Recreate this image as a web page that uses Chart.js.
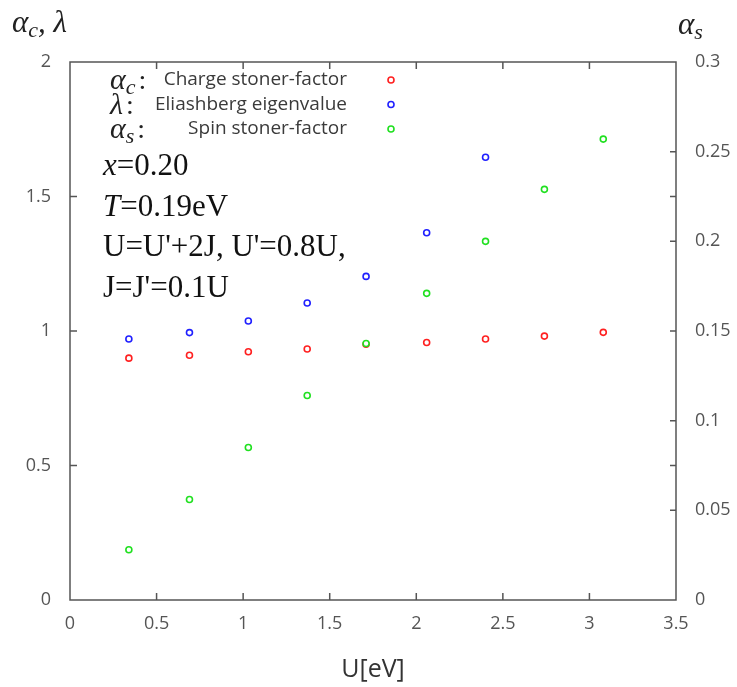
<!DOCTYPE html>
<html>
<head>
<meta charset="utf-8">
<script src="https://cdn.jsdelivr.net/npm/chart.js@4"></script>
<style>
  html, body { margin: 0; padding: 0; background: #fff; }
  #wrap { width: 737px; height: 687px; }
</style>
</head>
<body>
<div id="wrap"><canvas id="chart" width="737" height="687"></canvas></div>
<script>
// U [eV] values on the x axis
const uValues = [0.34, 0.69, 1.03, 1.37, 1.71, 2.06, 2.40, 2.74, 3.08]
// left axis: charge stoner factor and Eliashberg eigenvalue
const chargeStoner = [0.899, 0.910, 0.923, 0.933, 0.951, 0.957, 0.970, 0.981, 0.995]
const eliashberg = [0.970, 0.994, 1.037, 1.104, 1.203, 1.365, 1.646]
// right axis: spin stoner factor
const spinStoner = [0.028, 0.056, 0.085, 0.114, 0.143, 0.171, 0.200, 0.229, 0.257]

const xTicks = [0, 0.5, 1, 1.5, 2, 2.5, 3, 3.5]
const leftTicks = [0, 0.5, 1, 1.5, 2]
const rightTicks = [0, 0.05, 0.1, 0.15, 0.2, 0.25, 0.3]

const legendRows = [
  { greek: 'α', sub: 'c', label: 'Charge stoner-factor', color: '#ff2020' },
  { greek: 'λ', sub: '', label: 'Eliashberg eigenvalue', color: '#2020ff' },
  { greek: 'α', sub: 's', label: 'Spin stoner-factor', color: '#20e020' }
]

const notes = [
  [{ t: 'x', i: true }, { t: '=0.20' }],
  [{ t: 'T', i: true }, { t: '=0.19eV' }],
  [{ t: "U=U'+2J, U'=0.8U," }],
  [{ t: "J=J'=0.1U" }]
]

function toPoints(values) {
  return values.map((v, i) => ({ x: uValues[i], y: v }))
}

const SERIF = '"Liberation Serif", "DejaVu Serif", serif'
const SANS = '"Open Sans", "Noto Sans", sans-serif'

// draws runs of text one after another, returns end x
function drawRuns(ctx, runs, x, y) {
  runs.forEach((r) => {
    ctx.font = r.font
    ctx.fillText(r.t, x + (r.dx || 0), y + (r.dy || 0))
    x += ctx.measureText(r.t).width + (r.dx || 0)
  })
  return x
}

const decorations = {
  id: 'decorations',
  afterDraw(chart) {
    const ctx = chart.ctx
    const area = chart.chartArea
    const xs = chart.scales.x
    const yl = chart.scales.y
    const yr = chart.scales.y2
    ctx.save()

    // frame
    ctx.strokeStyle = '#555'
    ctx.lineWidth = 1.5
    ctx.strokeRect(area.left, area.top, area.right - area.left, area.bottom - area.top)

    // inward ticks
    ctx.beginPath()
    xTicks.slice(1, -1).forEach((v) => {
      const px = xs.getPixelForValue(v)
      ctx.moveTo(px, area.bottom); ctx.lineTo(px, area.bottom - 7)
      ctx.moveTo(px, area.top); ctx.lineTo(px, area.top + 7)
    })
    leftTicks.slice(1, -1).forEach((v) => {
      const py = yl.getPixelForValue(v)
      ctx.moveTo(area.left, py); ctx.lineTo(area.left + 7, py)
      ctx.moveTo(area.right, py); ctx.lineTo(area.right - 6, py)
    })
    rightTicks.slice(1, -1).forEach((v) => {
      const py = yr.getPixelForValue(v)
      ctx.moveTo(area.right, py); ctx.lineTo(area.right - 6, py)
    })
    ctx.stroke()

    // axis titles with greek letters
    ctx.fillStyle = '#222'
    ctx.textBaseline = 'alphabetic'
    ctx.textAlign = 'left'
    drawRuns(ctx, [
      { t: 'α', font: 'italic 31px ' + SERIF },
      { t: 'c', font: 'italic 22px ' + SERIF, dy: 5 },
      { t: ', ', font: 'italic 31px ' + SERIF },
      { t: 'λ', font: 'italic 31px ' + SERIF }
    ], 12, 32)
    drawRuns(ctx, [
      { t: 'α', font: 'italic 31px ' + SERIF },
      { t: 's', font: 'italic 22px ' + SERIF, dy: 5 }
    ], 678, 34)

    // legend
    legendRows.forEach((row, i) => {
      const y = 80 + i * 24.5
      ctx.fillStyle = '#222'
      ctx.textAlign = 'left'
      ctx.textBaseline = 'alphabetic'
      const runs = [{ t: row.greek, font: 'italic 30px ' + SERIF }]
      if (row.sub) runs.push({ t: row.sub, font: 'italic 22px ' + SERIF, dy: 5 })
      runs.push({ t: ':', font: '28px ' + SERIF, dx: 3 })
      drawRuns(ctx, runs, 110, y + 9)

      ctx.fillStyle = '#3a3a3a'
      ctx.font = '19px ' + SANS
      ctx.textAlign = 'right'
      ctx.textBaseline = 'middle'
      ctx.fillText(row.label, 347, y)

      ctx.beginPath()
      ctx.arc(391, y, 3, 0, Math.PI * 2)
      ctx.fillStyle = '#fff'
      ctx.fill()
      ctx.strokeStyle = row.color
      ctx.lineWidth = 1.6
      ctx.stroke()
    })

    // parameter notes
    ctx.fillStyle = '#111'
    ctx.textAlign = 'left'
    ctx.textBaseline = 'alphabetic'
    notes.forEach((line, i) => {
      drawRuns(ctx, line.map((p) => ({ t: p.t, font: (p.i ? 'italic ' : '') + '31px ' + SERIF })), 103, 175 + i * 40.5)
    })

    ctx.restore()
  }
}

const pointStyleFor = (color) => ({
  showLine: false,
  pointRadius: 3,
  pointHoverRadius: 3,
  pointBorderWidth: 1.6,
  pointBackgroundColor: '#fff',
  pointBorderColor: color,
  borderColor: color,
  backgroundColor: '#fff'
})

new Chart(document.getElementById('chart').getContext('2d'), {
  type: 'scatter',
  data: {
    datasets: [
      Object.assign({ label: 'Charge stoner-factor', data: toPoints(chargeStoner), yAxisID: 'y', order: 2 }, pointStyleFor('#ff2020')),
      Object.assign({ label: 'Eliashberg eigenvalue', data: toPoints(eliashberg), yAxisID: 'y', order: 1 }, pointStyleFor('#2020ff')),
      Object.assign({ label: 'Spin stoner-factor', data: toPoints(spinStoner), yAxisID: 'y2', order: 0 }, pointStyleFor('#20e020'))
    ]
  },
  options: {
    responsive: false,
    animation: false,
    layout: { padding: { top: 62, left: 0, right: 0, bottom: 0 } },
    plugins: { legend: { display: false }, tooltip: { enabled: false } },
    scales: {
      x: {
        type: 'linear',
        min: 0,
        max: 3.5,
        afterBuildTicks: (s) => { s.ticks = xTicks.map((v) => ({ value: v })) },
        afterFit: (s) => { s.height = 87 },
        grid: { display: false },
        border: { display: false },
        ticks: { color: '#555', font: { family: SANS, size: 18 }, padding: 5, callback: (v) => String(v) },
        title: { display: true, text: 'U[eV]', color: '#333', font: { family: SANS, size: 25 }, padding: { top: 0, bottom: 2 } }
      },
      y: {
        type: 'linear',
        position: 'left',
        min: 0,
        max: 2,
        afterBuildTicks: (s) => { s.ticks = leftTicks.map((v) => ({ value: v })) },
        afterFit: (s) => { s.width = 70 },
        grid: { display: false },
        border: { display: false },
        ticks: { color: '#555', font: { family: SANS, size: 18 }, padding: 11, callback: (v) => String(v) }
      },
      y2: {
        type: 'linear',
        position: 'right',
        min: 0,
        max: 0.3,
        afterBuildTicks: (s) => { s.ticks = rightTicks.map((v) => ({ value: v })) },
        afterFit: (s) => { s.width = 61 },
        grid: { display: false },
        border: { display: false },
        ticks: { color: '#555', font: { family: SANS, size: 18 }, padding: 11, callback: (v) => String(+v.toFixed(2)) }
      }
    }
  },
  plugins: [decorations]
})
</script>
</body>
</html>
